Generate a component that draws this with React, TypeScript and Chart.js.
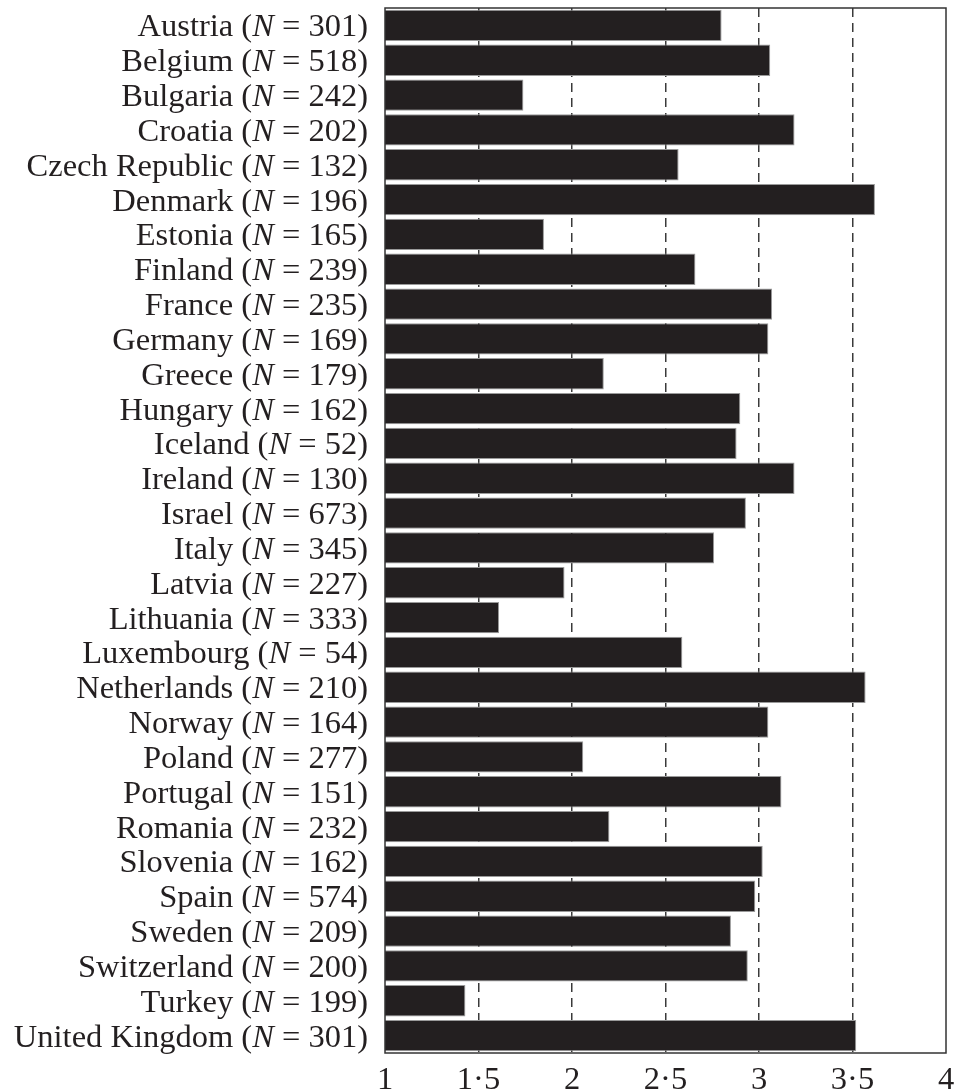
import React, { useEffect, useRef } from "react";
import { Chart, registerables } from "chart.js";

Chart.register(...registerables);

const countries = [
  "Austria", "Belgium", "Bulgaria", "Croatia", "Czech Republic", "Denmark",
  "Estonia", "Finland", "France", "Germany", "Greece", "Hungary", "Iceland",
  "Ireland", "Israel", "Italy", "Latvia", "Lithuania", "Luxembourg",
  "Netherlands", "Norway", "Poland", "Portugal", "Romania", "Slovenia",
  "Spain", "Sweden", "Switzerland", "Turkey", "United Kingdom",
];

const sampleSizes = [
  301, 518, 242, 202, 132, 196, 165, 239, 235, 169, 179, 162, 52, 130, 673,
  345, 227, 333, 54, 210, 164, 277, 151, 232, 162, 574, 209, 200, 199, 301,
];

const meanValues = [
  2.8, 3.06, 1.74, 3.19, 2.57, 3.62, 1.85, 2.66, 3.07, 3.05, 2.17, 2.9, 2.88,
  3.19, 2.93, 2.76, 1.96, 1.61, 2.59, 3.57, 3.05, 2.06, 3.12, 2.2, 3.02, 2.98,
  2.85, 2.94, 1.43, 3.52,
];

const xTickValues = [1, 1.5, 2, 2.5, 3, 3.5, 4];

const FONT_FAMILY = "'Liberation Serif', 'Times New Roman', serif";
const FONT_SIZE = 32.5;
const INK = "#231f20";

const labelPlugin = {
  id: "countryLabels",
  afterDraw(chart: any) {
    const ctx = chart.ctx;
    const yScale = chart.scales.y;
    const xScale = chart.scales.x;
    ctx.save();
    ctx.fillStyle = INK;
    ctx.textBaseline = "alphabetic";
    ctx.textAlign = "right";
    const normal = `${FONT_SIZE}px ${FONT_FAMILY}`;
    const italic = `italic ${FONT_SIZE}px ${FONT_FAMILY}`;
    countries.forEach((name, i) => {
      const yPix = yScale.getPixelForValue(i) + 11;
      let x = xScale.left - 17;
      const tail = ` = ${sampleSizes[i]})`;
      const head = `${name} (`;
      ctx.font = normal;
      ctx.fillText(tail, x, yPix);
      x -= ctx.measureText(tail).width;
      ctx.font = italic;
      ctx.fillText("N", x, yPix);
      x -= ctx.measureText("N").width;
      ctx.font = normal;
      ctx.fillText(head, x, yPix);
    });
    const a = chart.chartArea;
    ctx.strokeStyle = "#333";
    ctx.lineWidth = 1.5;
    ctx.strokeRect(a.left, a.top, a.right - a.left, a.bottom - a.top);
    ctx.restore();
  },
};

export default function App() {
  const canvasRef = useRef<HTMLCanvasElement | null>(null);

  useEffect(() => {
    if (!canvasRef.current) return;
    const chart = new Chart(canvasRef.current, {
      type: "bar",
      data: {
        labels: countries,
        datasets: [
          {
            data: meanValues,
            backgroundColor: INK,
            borderColor: "#9a9a9a",
            borderWidth: 1,
            barPercentage: 0.9,
            categoryPercentage: 1,
          },
        ],
      },
      options: {
        indexAxis: "y",
        animation: false,
        responsive: false,
        maintainAspectRatio: false,
        layout: { padding: { top: 8, right: 12, left: 0, bottom: 0 } },
        plugins: {
          legend: { display: false },
          tooltip: { enabled: false },
        },
        scales: {
          x: {
            min: 1,
            max: 4,
            afterFit: (s: any) => {
              s.height = 39;
              s.paddingLeft = 0;
              s.paddingRight = 0;
            },
            afterBuildTicks: (s: any) => {
              s.ticks = xTickValues.map((v) => ({ value: v }));
            },
            grid: {
              drawTicks: false,
              color: (c: any) =>
                c.tick && (c.tick.value === 1 || c.tick.value === 4)
                  ? "rgba(0,0,0,0)"
                  : "#3a3a3a",
              lineWidth: 1.5,
            },
            border: { display: false, dash: [9, 6] },
            ticks: {
              padding: 8,
              color: INK,
              font: { family: FONT_FAMILY, size: FONT_SIZE },
              callback: (v: any) => String(v).replace(".", "·"),
              maxRotation: 0,
              autoSkip: false,
            },
          },
          y: {
            afterFit: (s: any) => {
              s.width = 385;
            },
            grid: { display: false },
            border: { display: false },
            ticks: { display: false },
          },
        },
      },
      plugins: [labelPlugin],
    } as any);
    return () => chart.destroy();
  }, []);

  return (
    <div style={{ position: "absolute", left: 0, top: 0, width: 958, height: 1092 }}>
      <canvas ref={canvasRef} width={958} height={1092} style={{ width: 958, height: 1092 }} />
    </div>
  );
}
